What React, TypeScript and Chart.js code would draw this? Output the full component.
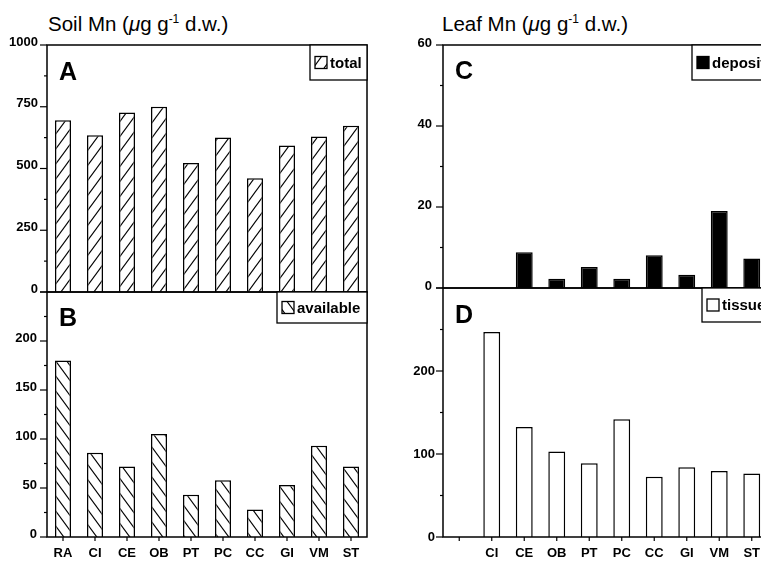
import React, { useEffect, useRef } from 'react';
import { Chart, registerables } from 'chart.js';
Chart.register(...registerables);

const FONT = "'Liberation Sans', Arial, Helvetica, sans-serif";
Chart.defaults.font.family = FONT;

// ---- data ----
const soilCategories = ['RA', 'CI', 'CE', 'OB', 'PT', 'PC', 'CC', 'GI', 'VM', 'ST'];
const leafCategories = ['', 'CI', 'CE', 'OB', 'PT', 'PC', 'CC', 'GI', 'VM', 'ST'];
const soilTotal = [695, 635, 727, 750, 522, 626, 461, 593, 630, 673];
const soilAvailable = [180, 86, 72, 105, 43, 58, 28, 53, 93, 72];
const leafDeposit = [null, null, 8.8, 2.3, 5.2, 2.3, 8.1, 3.3, 19.0, 7.3];
const leafTissue = [null, 247, 132.5, 103, 89, 142, 72.5, 84, 79.5, 76.5];
const soilTotalTicks = [0, 250, 500, 750, 1000];
const soilAvailableTicks = [0, 50, 100, 150, 200];
const leafDepositTicks = [0, 20, 40, 60];
const leafTissueTicks = [0, 100, 200];
const legendLabels = ['total', 'available', 'deposit', 'tissue'];
const panelLetters = ['A', 'B', 'C', 'D'];

function hatch(dir: number) {
  const w = 11, h = 15;
  const c = document.createElement('canvas');
  c.width = w; c.height = h;
  const g = c.getContext('2d')!;
  g.fillStyle = '#fff';
  g.fillRect(0, 0, w, h);
  g.strokeStyle = '#000';
  g.lineWidth = 1.1;
  for (const off of [-w, 0, w]) {
    g.beginPath();
    if (dir === 1) { g.moveTo(off - 1, h + h / w); g.lineTo(off + w + 1, -h / w); }
    else { g.moveTo(off - 1, -h / w); g.lineTo(off + w + 1, h + h / w); }
    g.stroke();
  }
  return g.createPattern(c, 'repeat') as CanvasPattern;
}

type Panel = {
  labels: string[];
  values: (number | null)[];
  fill: any;
  max: number;
  step: number;
  tickLabels: number[];
  barPct: number;
  padding: { left: number; top: number; right: number; bottom: number };
  yWidth: number;
  showX: boolean;
  xHeight: number;
  labelOffset: number;
  tickPad: number;
  letter: string;
  letterDy: number;
  legendText: string;
  legendW: number;
  legendH: number;
  swatch: any;
};

function makePlugin(p: Panel) {
  return {
    id: 'panelDeco',
    afterDatasetsDraw(chart: any) {
      const { ctx, chartArea: a } = chart;
      ctx.save();
      ctx.strokeStyle = '#000';
      ctx.fillStyle = '#000';
      ctx.lineWidth = 1.5;
      ctx.strokeRect(a.left, a.top, a.right - a.left, a.bottom - a.top);
      // y tick marks
      const ys = chart.scales.y;
      ctx.lineWidth = 1.2;
      ys.ticks.forEach((t: any) => {
        const py = ys.getPixelForValue(t.value);
        const major = p.tickLabels.includes(t.value) || t.value === p.max;
        ctx.beginPath();
        ctx.moveTo(a.left - (major ? 7 : 3), py);
        ctx.lineTo(a.left, py);
        ctx.stroke();
      });
      // x tick marks
      if (p.showX) {
        const xs = chart.scales.x;
        for (let i = 0; i < p.labels.length; i++) {
          const px = xs.getPixelForTick(i);
          ctx.beginPath();
          ctx.moveTo(px, a.bottom);
          ctx.lineTo(px, a.bottom + 4);
          ctx.stroke();
        }
      }
      // panel letter
      ctx.font = `bold 25px ${FONT}`;
      ctx.textAlign = 'left';
      ctx.textBaseline = 'alphabetic';
      ctx.fillText(p.letter, a.left + 12, a.top + p.letterDy);
      // legend box
      const bx = a.right - p.legendW, by = a.top;
      ctx.fillStyle = '#fff';
      ctx.fillRect(bx, by, p.legendW, p.legendH);
      ctx.lineWidth = 1.3;
      ctx.strokeStyle = '#000';
      ctx.strokeRect(bx, by, p.legendW, p.legendH);
      const s = 12;
      const sx = bx + 5, sy = by + p.legendH / 2 - s / 2;
      ctx.fillStyle = p.swatch;
      ctx.fillRect(sx, sy, s, s);
      ctx.lineWidth = 1.3;
      ctx.strokeRect(sx, sy, s, s);
      ctx.fillStyle = '#000';
      ctx.font = `bold 15px ${FONT}`;
      ctx.textBaseline = 'middle';
      ctx.fillText(p.legendText, sx + s + 3, by + p.legendH / 2 + 1);
      ctx.restore();
    },
  };
}

function makeChart(canvas: HTMLCanvasElement, p: Panel) {
  return new Chart(canvas, {
    type: 'bar',
    data: {
      labels: p.labels,
      datasets: [{
        data: p.values as any,
        backgroundColor: p.fill,
        borderColor: '#000',
        borderWidth: 1.5,
        barPercentage: p.barPct,
        categoryPercentage: 1,
      }],
    },
    options: {
      responsive: false,
      animation: false,
      layout: { padding: p.padding },
      plugins: { legend: { display: false }, tooltip: { enabled: false } },
      scales: {
        x: {
          display: p.showX,
          grid: { display: false, drawTicks: false },
          border: { display: false },
          ticks: { color: '#000', font: { size: 13, weight: 'bold' }, padding: 9, maxRotation: 0, autoSkip: false },
          afterFit: (s: any) => { s.height = p.xHeight; },
        },
        y: {
          min: 0,
          max: p.max,
          grid: { display: false, drawTicks: false },
          border: { display: false },
          ticks: {
            stepSize: p.step,
            autoSkip: false,
            color: '#000',
            font: { size: 13, weight: 'bold' },
            padding: p.tickPad,
            labelOffset: p.labelOffset,
            callback: (v: any) => (p.tickLabels.includes(Number(v)) ? String(v) : ''),
          },
          afterFit: (s: any) => { s.width = p.yWidth; },
        },
      },
    } as any,
    plugins: [makePlugin(p) as any],
  });
}

export default function App() {
  const refA = useRef<HTMLCanvasElement>(null);
  const refB = useRef<HTMLCanvasElement>(null);
  const refC = useRef<HTMLCanvasElement>(null);
  const refD = useRef<HTMLCanvasElement>(null);

  useEffect(() => {
    const patA = hatch(1);
    const patB = hatch(-1);
    const charts = [
      makeChart(refA.current!, {
        labels: soilCategories, values: soilTotal, fill: patA, max: 1000, step: 125,
        tickLabels: soilTotalTicks, barPct: 0.5,
        padding: { left: 0, top: 45, right: 13, bottom: 22 }, yWidth: 47, showX: false, xHeight: 0,
        labelOffset: -3, tickPad: 9, letter: panelLetters[0], letterDy: 35,
        legendText: legendLabels[0], legendW: 57, legendH: 35, swatch: patA,
      }),
      makeChart(refB.current!, {
        labels: soilCategories, values: soilAvailable, fill: patB, max: 250, step: 25,
        tickLabels: soilAvailableTicks, barPct: 0.5,
        padding: { left: 0, top: 22, right: 13, bottom: 0 }, yWidth: 47, showX: true, xHeight: 26,
        labelOffset: -3, tickPad: 10, letter: panelLetters[1], letterDy: 34,
        legendText: legendLabels[1], legendW: 90, legendH: 31, swatch: patB,
      }),
      makeChart(refC.current!, {
        labels: leafCategories, values: leafDeposit, fill: '#000', max: 60, step: 10,
        tickLabels: leafDepositTicks, barPct: 0.52,
        padding: { left: 0, top: 45, right: 12, bottom: 22 }, yWidth: 63, showX: false, xHeight: 0,
        labelOffset: -2, tickPad: 11, letter: panelLetters[2], letterDy: 34,
        legendText: legendLabels[2], legendW: 76, legendH: 35, swatch: '#000',
      }),
      makeChart(refD.current!, {
        labels: leafCategories, values: leafTissue, fill: '#fff', max: 300, step: 50,
        tickLabels: leafTissueTicks, barPct: 0.52,
        padding: { left: 0, top: 22, right: 12, bottom: 0 }, yWidth: 63, showX: true, xHeight: 26,
        labelOffset: 0, tickPad: 8, letter: panelLetters[3], letterDy: 35,
        legendText: legendLabels[3], legendW: 66, legendH: 34, swatch: '#fff',
      }),
    ];
    return () => charts.forEach((c) => c.destroy());
  }, []);

  const titleStyle: React.CSSProperties = {
    position: 'absolute', top: 14, font: `20.5px ${FONT}`, lineHeight: '20px', color: '#000', whiteSpace: 'nowrap',
  };
  const supStyle: React.CSSProperties = { fontSize: 12, position: 'relative', top: -8 };

  return (
    <div style={{ position: 'fixed', left: 0, top: 0, width: 761, height: 563, overflow: 'hidden', background: '#fff' }}>
      <div style={{ ...titleStyle, left: 48 }}>
        Soil Mn (<i>μ</i>g g<span style={supStyle}>-1</span> d.w.)
      </div>
      <div style={{ ...titleStyle, left: 442 }}>
        Leaf Mn (<i>μ</i>g g<span style={supStyle}>-1</span> d.w.)
      </div>
      <canvas ref={refA} width={380} height={314} style={{ position: 'absolute', left: 0, top: 0 }} />
      <canvas ref={refB} width={380} height={293} style={{ position: 'absolute', left: 0, top: 270 }} />
      <canvas ref={refC} width={400} height={310} style={{ position: 'absolute', left: 380, top: 0 }} />
      <canvas ref={refD} width={400} height={297} style={{ position: 'absolute', left: 380, top: 266 }} />
    </div>
  );
}
